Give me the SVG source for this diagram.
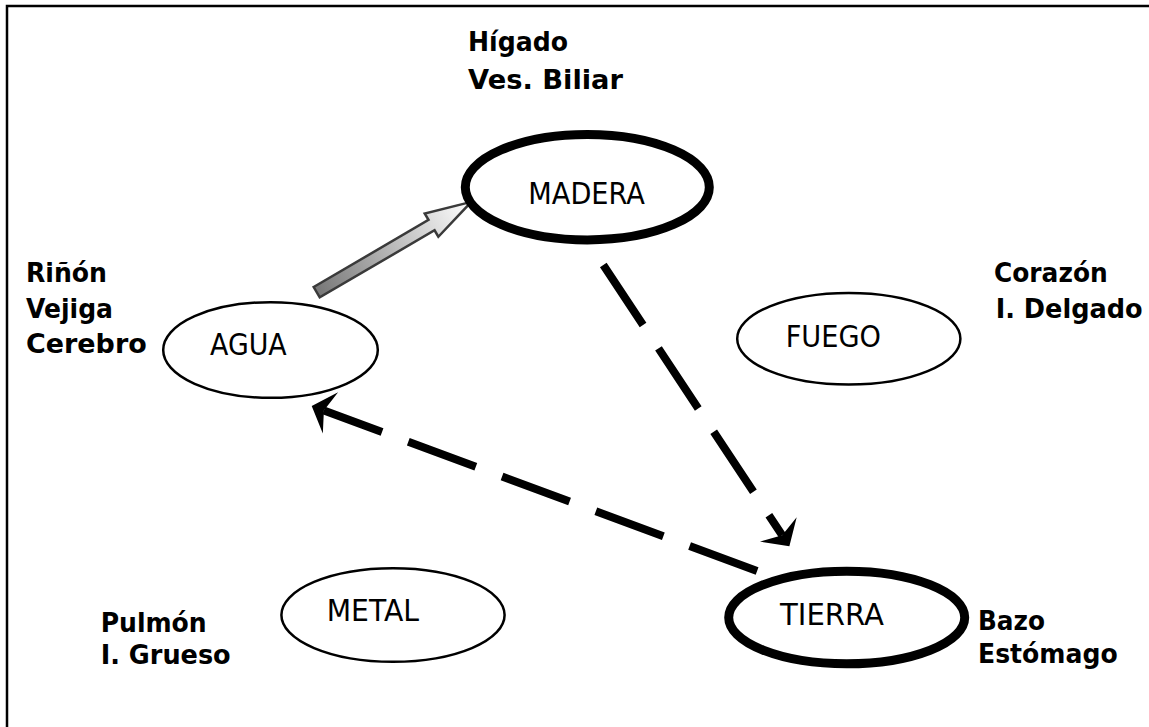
<svg xmlns="http://www.w3.org/2000/svg" width="1149" height="727" viewBox="0 0 1149 727">
<defs>
<style>
.node{fill:#fff;stroke:#000}
.thin{stroke-width:2.5}
.thick{stroke-width:9}
.nt{font-family:"DejaVu Sans",Verdana,sans-serif;font-size:30px;fill:#000}
.lb{font-family:"DejaVu Sans",Verdana,sans-serif;font-weight:bold;font-size:26.5px;fill:#000}
.dash{fill:none;stroke:#000;stroke-width:8;stroke-dasharray:72 28}
</style>
<linearGradient id="grad" x1="0" y1="0" x2="1" y2="0">
<stop offset="0" stop-color="#777"/>
<stop offset="1" stop-color="#fff"/>
</linearGradient>
<marker id="ah" markerUnits="userSpaceOnUse" orient="auto-start-reverse" overflow="visible" viewBox="-10 -25 26 50" markerWidth="26" markerHeight="50" refX="0" refY="0">
<path d="M13,0 L-7,-22 L0,0 L-7,22 Z" fill="#000"/>
</marker>
</defs>
<rect width="1149" height="727" fill="#fff"/>
<path d="M7,727 V6 H1149" fill="none" stroke="#000" stroke-width="2.5"/>

<g id="connectors">
<path class="dash" d="M603.3,265 L782.2,535.3" marker-end="url(#ah)"/>
<path class="dash" d="M323.9,410.5 L757.1,571" stroke-dashoffset="10" marker-start="url(#ah)"/>
<g transform="translate(316.7,292.2) rotate(-30.3)">
<polygon points="0,-6 133,-6 133,-13.5 179,0 133,13.5 133,6 0,6" fill="url(#grad)" stroke="#3a3a3a" stroke-width="2.5"/>
</g>
</g>

<g id="madera">
<ellipse class="node thick" cx="587.3" cy="187.2" rx="122" ry="52.7"/>
<text class="nt" x="528.3" y="204.3" textLength="116.7" lengthAdjust="spacingAndGlyphs">MADERA</text>
<text class="lb" x="468" y="50.7" textLength="100" lengthAdjust="spacingAndGlyphs">Hígado</text>
<text class="lb" x="468" y="89.3" font-size="29.5" textLength="155" lengthAdjust="spacingAndGlyphs">Ves. Biliar</text>
</g>

<g id="agua">
<ellipse class="node thin" cx="270.5" cy="350" rx="107.3" ry="47.8"/>
<text class="nt" x="210" y="355" textLength="76.7" lengthAdjust="spacingAndGlyphs">AGUA</text>
<text class="lb" x="26" y="281.7" textLength="81" lengthAdjust="spacingAndGlyphs">Riñón</text>
<text class="lb" x="26" y="318.3" textLength="87" lengthAdjust="spacingAndGlyphs">Vejiga</text>
<text class="lb" x="26" y="353.3" font-size="28" textLength="120.7" lengthAdjust="spacingAndGlyphs">Cerebro</text>
</g>

<g id="fuego">
<ellipse class="node thin" cx="848.8" cy="338.7" rx="111.6" ry="45.8"/>
<text class="nt" x="785.7" y="347" textLength="95.3" lengthAdjust="spacingAndGlyphs">FUEGO</text>
<text class="lb" x="994" y="281.7" textLength="113.7" lengthAdjust="spacingAndGlyphs">Corazón</text>
<text class="lb" x="995.7" y="317.7" textLength="147" lengthAdjust="spacingAndGlyphs">I. Delgado</text>
</g>

<g id="metal">
<ellipse class="node thin" cx="393" cy="615" rx="111.6" ry="46.8"/>
<text class="nt" x="326.7" y="620.7" textLength="92.3" lengthAdjust="spacingAndGlyphs">METAL</text>
<text class="lb" x="100.7" y="631.7" textLength="106" lengthAdjust="spacingAndGlyphs">Pulmón</text>
<text class="lb" x="100.7" y="664.3" textLength="130" lengthAdjust="spacingAndGlyphs">I. Grueso</text>
</g>

<g id="tierra">
<ellipse class="node thick" cx="846.7" cy="617.5" rx="118" ry="46.3"/>
<text class="nt" x="780" y="625" textLength="104" lengthAdjust="spacingAndGlyphs">TIERRA</text>
<text class="lb" x="978" y="630" textLength="67" lengthAdjust="spacingAndGlyphs">Bazo</text>
<text class="lb" x="978" y="663.3" textLength="139.7" lengthAdjust="spacingAndGlyphs">Estómago</text>
</g>
</svg>
